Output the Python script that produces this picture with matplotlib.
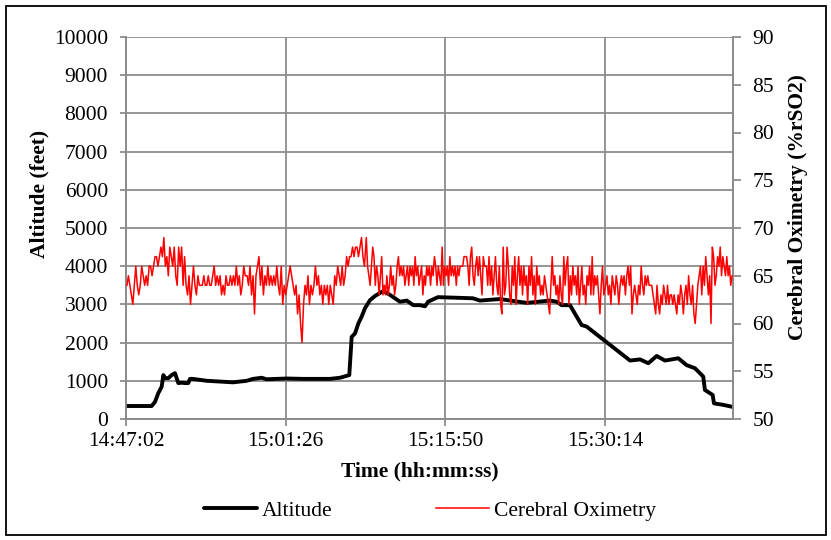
import numpy as np
import matplotlib
matplotlib.use("Agg")
import matplotlib.pyplot as plt
from matplotlib.patches import Rectangle

plt.rcParams['font.family'] = ['Liberation Serif', 'DejaVu Serif']

# ---- data (time in seconds after 14:47:02) ----
start_label_sec = 14 * 3600 + 47 * 60 + 2

alt_t = [0, 139, 157, 175, 193, 202, 211, 229, 247, 265, 283, 301, 319, 337, 346,
         362, 437, 509, 579, 653, 687, 734, 761, 869, 958, 1104, 1158, 1208, 1221,
         1239, 1257, 1275, 1293, 1320, 1347, 1392, 1428, 1482, 1519, 1554, 1591,
         1618, 1634, 1688, 1877, 1915, 2023, 2168, 2294, 2330, 2357, 2402, 2465,
         2492, 2727, 2781, 2826, 2871, 2916, 2988, 3033, 3078, 3123, 3132, 3174,
         3181, 3231, 3279]
alt_ft = [340, 340, 450, 680, 845, 1150, 1070, 1070, 1150, 1200, 940, 950, 940, 940,
          1050, 1050, 1000, 980, 960, 1000, 1050, 1080, 1040, 1060, 1050, 1050, 1080,
          1150, 2150, 2240, 2500, 2680, 2900, 3110, 3220, 3350, 3250, 3070, 3100, 2980,
          2980, 2950, 3070, 3190, 3160, 3100, 3140, 3040, 3100, 3070, 2980, 2980, 2460,
          2420, 1530, 1560, 1460, 1650, 1530, 1590, 1410, 1330, 1110, 760, 630, 410,
          370, 320]

# cerebral oximetry, in five consecutive time segments
oxi_seg_bounds = [(5, 645), (655, 1290), (1300, 1940), (1950, 2585), (2595, 3279)]
oxi_seg1 = [64, 65, 64, 63, 62, 64, 66, 64, 63, 64, 66, 65, 64, 65, 64, 66, 66, 65, 66,
            67, 67, 66, 67, 68, 67, 69, 66, 67, 65, 68, 67, 66, 68, 65, 64, 68, 66, 68,
            64, 67, 64, 63, 65, 62, 64, 66, 64, 63, 65, 64, 64, 64, 65, 64, 64, 65, 64,
            64, 65, 66, 64, 65, 64, 65, 63, 64, 63, 65, 64, 64, 65, 64, 65, 64, 66, 64,
            65, 63, 64, 66, 65]
oxi_seg2 = [65, 64, 66, 63, 65, 61, 65, 66, 67, 64, 66, 63, 65, 64, 66, 64, 65, 64, 65,
            64, 66, 64, 63, 66, 62, 64, 63, 64, 65, 66, 65, 64, 63, 64, 61, 63, 60, 58,
            62, 64, 63, 65, 62, 64, 63, 64, 66, 64, 65, 63, 64, 62, 64, 63, 64, 62, 64,
            63, 62, 65, 64, 66, 65, 64, 66, 64, 65, 67, 66, 67, 67, 68, 67, 68, 68, 67,
            68, 69, 67, 66]
oxi_seg3 = [69, 66, 65, 64, 66, 68, 67, 64, 66, 65, 63, 65, 67, 63, 64, 63, 65, 63, 64,
            66, 64, 65, 63, 64, 66, 67, 65, 66, 65, 66, 64, 65, 66, 64, 66, 65, 66, 64,
            67, 65, 66, 64, 65, 66, 63, 65, 64, 66, 65, 66, 64, 66, 65, 67, 66, 64, 66,
            65, 64, 68, 64, 66, 65, 66, 64, 67, 65, 66, 65, 66, 64, 66, 65, 66, 66, 66,
            67, 67, 67, 66, 64, 67, 68, 65, 64, 66, 67, 65, 67, 65, 63, 67, 66]
oxi_seg4 = [66, 64, 67, 64, 66, 63, 65, 67, 64, 63, 66, 62, 61, 68, 63, 64, 68, 66, 63,
            62, 66, 64, 67, 62, 65, 67, 64, 66, 63, 66, 64, 65, 62, 66, 64, 67, 63, 65,
            62, 66, 64, 65, 63, 64, 63, 65, 64, 63, 62, 61, 64, 67, 64, 65, 63, 64, 62,
            65, 63, 62, 67, 64, 66, 67, 62, 65, 63, 66, 64, 65, 63, 66, 62, 64, 66, 63,
            64, 62, 65, 64, 66, 63, 67, 63, 65, 64, 65, 63, 61, 64, 66, 63]
oxi_seg5 = [64, 65, 63, 64, 62, 65, 64, 63, 65, 64, 62, 64, 65, 64, 65, 63, 65, 66, 64,
            66, 61, 63, 64, 63, 62, 64, 63, 66, 64, 63, 65, 64, 65, 64, 64, 64, 63, 62,
            61, 64, 62, 61, 63, 62, 64, 63, 62, 64, 62, 63, 63, 62, 63, 62, 61, 63, 62,
            64, 63, 61, 63, 64, 62, 65, 63, 62, 64, 61, 60, 62, 64, 65, 66, 63, 66, 64,
            67, 65, 63, 65, 60, 68, 67, 64, 65, 67, 66, 68, 65, 67, 66, 65, 67, 65, 66,
            64, 65]
oxi_segments = [oxi_seg1, oxi_seg2, oxi_seg3, oxi_seg4, oxi_seg5]

x_ticks_sec = [0, 864, 1728, 2592]
x_max_sec = 3284

left_ticks = list(range(0, 10001, 1000))
right_ticks = list(range(50, 91, 5))


def fmt_time(s):
    s = int(round(s + start_label_sec))
    return f"{s // 3600:02d}:{(s % 3600) // 60:02d}:{s % 60:02d}"


oxi_t = np.concatenate([np.linspace(a, b, len(seg))
                        for (a, b), seg in zip(oxi_seg_bounds, oxi_segments)])
oxi_v = np.concatenate([np.array(seg, dtype=float) for seg in oxi_segments])

# ---- figure ----
W, H = 831, 540
fig = plt.figure(figsize=(W / 100, H / 100), dpi=100)
fig.patches.append(Rectangle((6 / W, 5 / H), 820 / W, 529 / H, transform=fig.transFigure,
                             fill=False, edgecolor='black', linewidth=1.3))

L, R, T, B = 126, 733, 37, 419
PW, PH = R - L, B - T
ax = fig.add_axes([L / W, 1 - B / H, PW / W, PH / H])
ax2 = ax.twinx()

grid_c = '#8c8c8c'
ax.plot(alt_t, alt_ft, color='black', linewidth=2.8, solid_capstyle='round',
        solid_joinstyle='round', label='Altitude', zorder=3)
ax2.plot(oxi_t, oxi_v, color='#ff0000', linewidth=1.1, label='Cerebral Oximetry', zorder=3)

ax.set_xlim(0, x_max_sec)
ax.set_ylim(0, 10000)
ax2.set_ylim(50, 90)
ax.set_xticks(x_ticks_sec)
ax.set_xticklabels([fmt_time(s) for s in x_ticks_sec])
ax.set_yticks(left_ticks)
ax.set_yticklabels([str(v) for v in left_ticks])
ax2.set_yticks(right_ticks)
ax2.set_yticklabels([str(v) for v in right_ticks])

ax.grid(True, color=grid_c, linewidth=1.3)
ax.set_axisbelow(True)
for a in (ax, ax2):
    a.spines['top'].set_visible(False)
    for s in ('left', 'right', 'bottom'):
        a.spines[s].set_color(grid_c)
        a.spines[s].set_linewidth(1.3)

fs = 15.5
ax.tick_params(axis='y', which='both', direction='out', length=4, width=1.3,
               color=grid_c, labelsize=fs, pad=9)
ax.tick_params(axis='x', which='both', direction='out', length=5, width=1.3,
               color=grid_c, labelsize=fs, pad=4)
ax2.tick_params(axis='y', which='both', direction='out', length=6, width=1.3,
                color=grid_c, labelsize=fs, pad=8)

ax.set_ylabel('Altitude (feet)', fontsize=fs, fontweight='bold')
ax.yaxis.set_label_coords((49 - L) / PW, (B - 194) / PH)
ax2.set_ylabel('Cerebral Oximetry (%rSO2)', fontsize=fs, fontweight='bold')
ax2.yaxis.set_label_coords((788 - L) / PW, (B - 207) / PH)
ax.set_xlabel('Time (hh:mm:ss)', fontsize=fs, fontweight='bold')
ax.xaxis.set_label_coords((420 - L) / PW, (B - 461) / PH)

h1, l1 = ax.get_legend_handles_labels()
h2, l2 = ax2.get_legend_handles_labels()
fig.legend(h1 + h2, l1 + l2, loc='center', bbox_to_anchor=(430 / W, 1 - 511 / H),
           ncol=2, frameon=False, fontsize=fs, handlelength=2.45, handletextpad=0.25,
           columnspacing=4.8)

fig.savefig('out.png', dpi=100)
